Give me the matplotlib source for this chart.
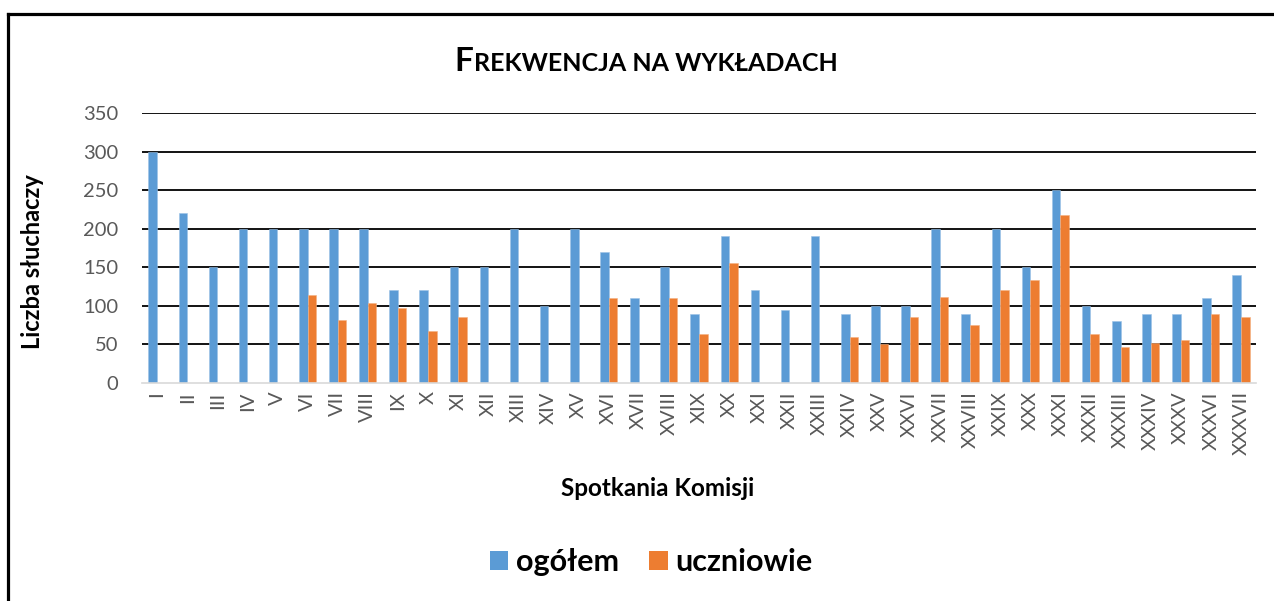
import matplotlib
matplotlib.use("Agg")
import matplotlib.pyplot as plt
from matplotlib.patches import Patch
from matplotlib.lines import Line2D
import numpy as np

categories = ["I", "II", "III", "IV", "V", "VI", "VII", "VIII", "IX", "X",
              "XI", "XII", "XIII", "XIV", "XV", "XVI", "XVII", "XVIII", "XIX", "XX",
              "XXI", "XXII", "XXIII", "XXIV", "XXV", "XXVI", "XXVII", "XXVIII", "XXIX", "XXX",
              "XXXI", "XXXII", "XXXIII", "XXXIV", "XXXV", "XXXVI", "XXXVII"]
ogolem = [300, 220, 150, 200, 200, 200, 200, 200, 120, 120,
          150, 150, 200, 100, 200, 170, 110, 150, 90, 190,
          120, 95, 190, 90, 100, 100, 200, 90, 200, 150,
          250, 100, 80, 90, 90, 110, 140]
uczniowie = [0, 0, 0, 0, 0, 114, 82, 104, 97, 68,
             86, 0, 0, 0, 0, 110, 0, 110, 64, 156,
             0, 0, 0, 60, 51, 85, 112, 75, 120, 133,
             218, 64, 47, 52, 56, 90, 85]
series_names = ["ogółem", "uczniowie"]
yticks = [0, 50, 100, 150, 200, 250, 300, 350]

BLUE = "#5B9BD5"
ORANGE = "#ED7D31"
GRAY = "#595959"
FONT = ["Lato", "DejaVu Sans"]
plt.rcParams["font.family"] = FONT

W, H = 1274, 601
fig = plt.figure(figsize=(W / 100, H / 100), dpi=100)
ax = fig.add_axes([142 / W, 1 - 383 / H, (1256 - 142) / W, (383 - 113) / H])

x = np.arange(len(categories))
bw = 0.285
ax.bar(x - bw / 2, ogolem, width=bw, color=BLUE, edgecolor="#9DC3E6", linewidth=0.4, zorder=3)
ax.bar(x + bw / 2, uczniowie, width=bw, color=ORANGE, edgecolor="#F4B183", linewidth=0.4, zorder=3)

ax.set_xlim(-0.5, len(categories) - 0.5)
ax.set_ylim(0, 350)
ax.set_yticks(yticks)
ax.set_yticklabels([str(v) for v in yticks])
ax.set_xticks(x)
ax.set_xticklabels(categories, rotation=90, va="top")
ax.tick_params(axis="both", length=0, colors=GRAY, labelsize=14.5)
ax.tick_params(axis="x", pad=6)
ax.tick_params(axis="y", pad=17)

for v in yticks[1:]:
    ax.axhline(v, color="black", linewidth=1.3, zorder=1)
for s in ["top", "right", "left"]:
    ax.spines[s].set_visible(False)
ax.spines["bottom"].set_color("#D9D9D9")
ax.spines["bottom"].set_linewidth(1.2)
ax.spines["bottom"].set_zorder(4)

fig.text(33 / W, 1 - 262 / H, "Liczba słuchaczy", rotation=90, ha="center", va="center",
         fontsize=17, fontweight="bold", color="black")
fig.text(658 / W, 1 - 489 / H, "Spotkania Komisji", ha="center", va="center",
         fontsize=17.5, fontweight="bold", color="black")

# Title with small caps look
renderer = fig.canvas.get_renderer()
t1 = fig.text(0, 1 - 71 / H, "F", fontsize=24, fontweight="bold", va="baseline", ha="left")
t2 = fig.text(0, 1 - 71 / H, "REKWENCJA NA WYKŁADACH", fontsize=18, fontweight="bold",
              va="baseline", ha="left")
w1 = t1.get_window_extent(renderer).width
w2 = t2.get_window_extent(renderer).width
cx = 646
left = cx - (w1 + w2) / 2
t1.set_x(left / W)
t2.set_x((left + w1 + 0.5) / W)

handles = [Patch(facecolor=BLUE, edgecolor="none"), Patch(facecolor=ORANGE, edgecolor="none")]
fig.legend(handles, series_names, loc="center", bbox_to_anchor=(651 / W, 1 - 562 / H),
           ncol=2, frameon=False, handlelength=0.6, handleheight=0.6, handletextpad=0.25,
           columnspacing=1.0, prop={"family": FONT, "weight": "bold", "size": 22})

# figure border (top and left)
fig.add_artist(Line2D([8 / W, 1], [1 - 14 / H, 1 - 14 / H], color="black", linewidth=2.3,
                      transform=fig.transFigure))
fig.add_artist(Line2D([8 / W, 8 / W], [0, 1 - 14 / H], color="black", linewidth=2.3,
                      transform=fig.transFigure))

fig.savefig("out.png", dpi=100, facecolor="white")
